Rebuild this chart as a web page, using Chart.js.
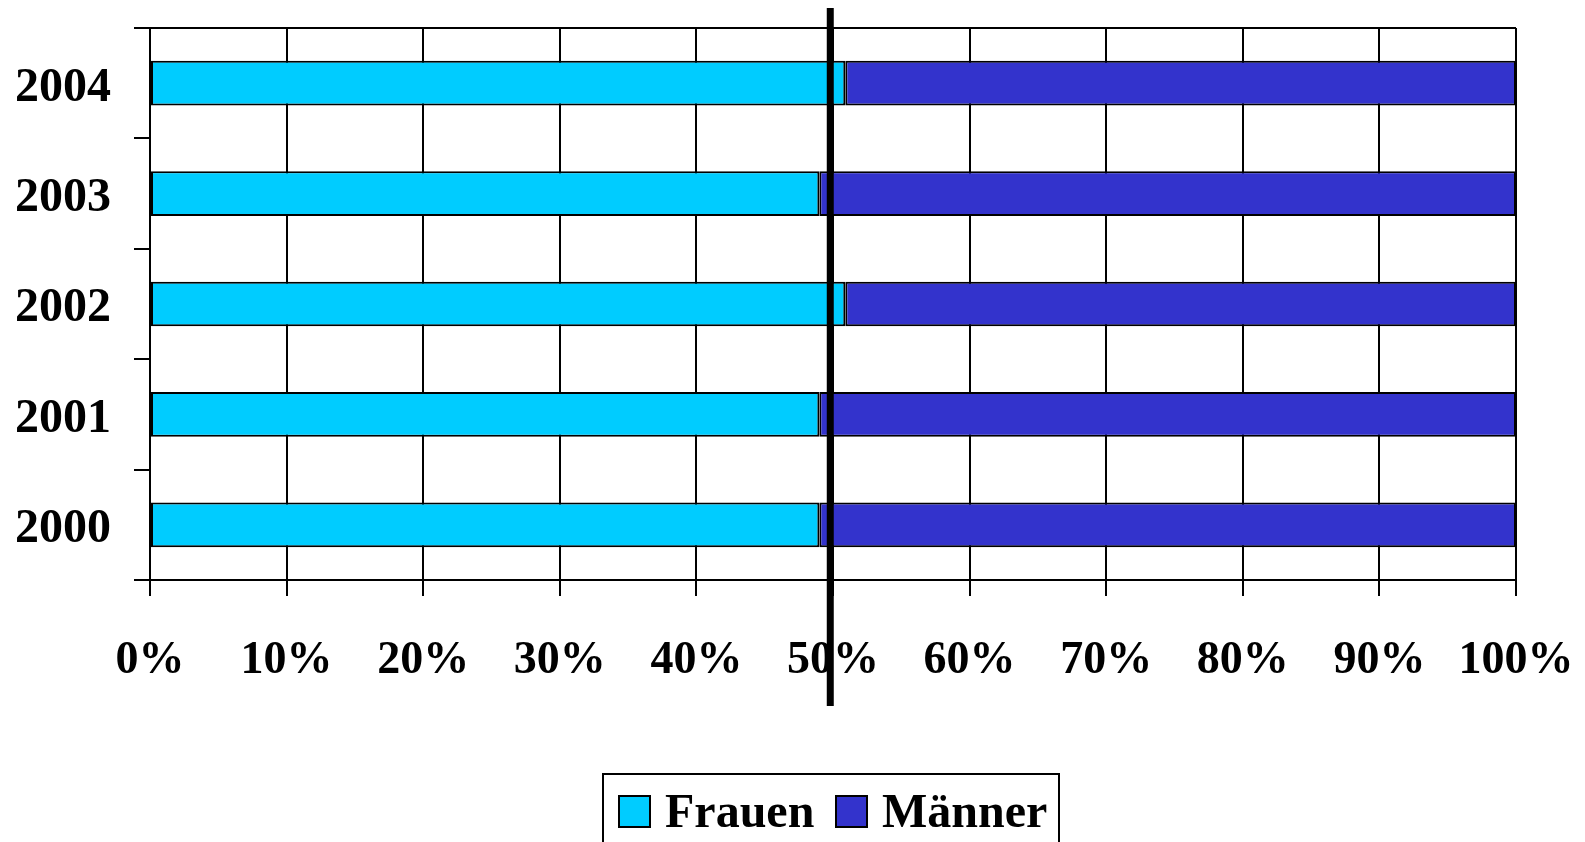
<!DOCTYPE html>
<html>
<head>
<meta charset="utf-8">
<script src="https://cdn.jsdelivr.net/npm/chart.js@4/dist/chart.umd.min.js"></script>
<style>
  html, body { margin: 0; padding: 0; background: #fff; }
  #wrap { width: 1585px; height: 842px; }
</style>
</head>
<body>
<div id="wrap"><canvas id="barChart" width="1585" height="842"></canvas></div>
<script>
const years = ["2000", "2001", "2002", "2003", "2004"];
const frauen = [49.0, 49.0, 50.9, 49.0, 50.9];
const maenner = [51.0, 51.0, 49.1, 51.0, 49.1];
const seriesNames = ["Frauen", "Männer"];
const xTicks = [0, 10, 20, 30, 40, 50, 60, 70, 80, 90, 100];
const markerValue = 49.8;

const FONT = "'Liberation Serif', 'Times New Roman', serif";

// thick vertical marker line, top border and the boxed legend
const extras = {
  id: "extras",
  afterDraw(chart) {
    const ctx = chart.ctx;
    const area = chart.chartArea;
    const x = chart.scales.x.getPixelForValue(markerValue);
    ctx.save();

    // top border of plot
    ctx.strokeStyle = "#000";
    ctx.lineWidth = 2;
    ctx.beginPath();
    ctx.moveTo(area.left - 16, area.top);
    ctx.lineTo(area.right, area.top);
    ctx.stroke();

    // 50% line
    ctx.lineWidth = 7;
    ctx.beginPath();
    ctx.moveTo(x, 8);
    ctx.lineTo(x, 706);
    ctx.stroke();

    // legend
    ctx.lineWidth = 2;
    ctx.strokeRect(603, 774, 456, 90);
    ctx.font = "bold 48px " + FONT;
    ctx.textBaseline = "alphabetic";
    ctx.textAlign = "left";
    const starts = [619, 836];
    chart.data.datasets.forEach((ds, i) => {
      const sx = starts[i];
      ctx.fillStyle = ds.backgroundColor;
      ctx.fillRect(sx, 796, 31, 31);
      ctx.lineWidth = 2;
      ctx.strokeRect(sx, 796, 31, 31);
      ctx.fillStyle = "#000";
      ctx.fillText(ds.label, sx + 46, 827);
    });
    ctx.restore();
  }
};

// no label overhang, so layout padding places the plot exactly
const noOverhang = (scale) => {
  scale.paddingLeft = 0;
  scale.paddingRight = 0;
  scale.paddingTop = 0;
  scale.paddingBottom = 0;
};

const ctx = document.getElementById("barChart").getContext("2d");
new Chart(ctx, {
  type: "bar",
  data: {
    labels: years,
    datasets: [
      {
        label: seriesNames[0],
        data: frauen,
        backgroundColor: "#00CCFF",
        borderColor: "#000",
        borderWidth: 2,
        borderSkipped: false,
      },
      {
        label: seriesNames[1],
        data: maenner,
        backgroundColor: "#3333CC",
        borderColor: "#000",
        borderWidth: 2,
        borderSkipped: false,
      },
    ],
  },
  options: {
    indexAxis: "y",
    responsive: false,
    animation: false,
    categoryPercentage: 1,
    barPercentage: 0.405,
    layout: { padding: { top: 28, right: 69, bottom: 142, left: 0 } },
    plugins: {
      legend: { display: false },
      tooltip: { enabled: false },
    },
    scales: {
      x: {
        stacked: true,
        min: 0,
        max: 100,
        afterBuildTicks(scale) {
          scale.ticks = xTicks.map((v) => ({ value: v }));
        },
        afterFit(scale) {
          scale.height = 120;
          noOverhang(scale);
        },
        grid: {
          color: "#000",
          lineWidth: 2,
          tickLength: 16,
          drawTicks: true,
        },
        border: { display: true, color: "#000", width: 2 },
        ticks: {
          color: "#000",
          padding: 38,
          maxRotation: 0,
          autoSkip: false,
          font: { family: FONT, size: 46, weight: "bold" },
          callback: (v) => v + "%",
        },
      },
      y: {
        stacked: true,
        reverse: true,
        afterFit(scale) {
          scale.width = 150;
          noOverhang(scale);
        },
        grid: {
          offset: true,
          drawOnChartArea: false,
          color: "#000",
          lineWidth: 2,
          tickLength: 16,
        },
        border: { display: true, color: "#000", width: 2 },
        ticks: {
          color: "#000",
          padding: 23,
          labelOffset: 5,
          font: { family: FONT, size: 48, weight: "bold" },
        },
      },
    },
  },
  plugins: [extras],
});
</script>
</body>
</html>
